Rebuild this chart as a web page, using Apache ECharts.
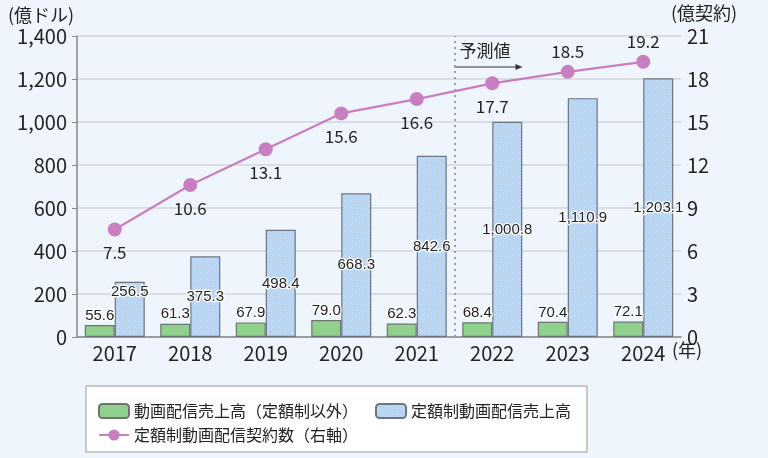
<!DOCTYPE html>
<html><head><meta charset="utf-8">
<script src="https://cdn.jsdelivr.net/npm/echarts@6/dist/echarts.min.js"></script>
<style>html,body{margin:0;padding:0;background:#eef5fc;}#c{width:768px;height:458px;}</style>
</head><body><div id="c"></div>
<script>
const years = ['2017','2018','2019','2020','2021','2022','2023','2024'];
const otherSales = [55.6, 61.3, 67.9, 79.0, 62.3, 68.4, 70.4, 72.1];
const subSales = [256.5, 375.3, 498.4, 668.3, 842.6, 1000.8, 1110.9, 1203.1];
const contracts = [7.5, 10.6, 13.1, 15.6, 16.6, 17.7, 18.5, 19.2];
const leftTicks = {min:0, max:1400, interval:200};
const rightTicks = {min:0, max:21, interval:3};
const forecastStartIndex = 5;
const names = ['動画配信売上高（定額制以外）','定額制動画配信売上高','定額制動画配信契約数（右軸）'];

const FONT = '"Noto Sans CJK JP","Noto Sans",sans-serif';
const NARROW = '"Liberation Sans",sans-serif';

function hatch(){
  const c = document.createElement('canvas');
  c.width = 6; c.height = 6;
  const g = c.getContext('2d');
  g.fillStyle = '#a4c8ef'; g.fillRect(0,0,6,6);
  g.strokeStyle = '#d0e3f8'; g.lineWidth = 1.2;
  for (let k=-6;k<=12;k+=3){ g.beginPath(); g.moveTo(k,6); g.lineTo(k+6,0); g.stroke(); }
  return c;
}
const pat = {image: hatch(), repeat:'repeat'};
const chart = echarts.init(document.getElementById('c'));
const fmt = v => v.toLocaleString('en-US',{minimumFractionDigits:1,maximumFractionDigits:1});
const barLabel = {show:true, fontFamily:NARROW, fontSize:15, color:'#222', textBorderColor:'#fff', textBorderWidth:2.5};

chart.setOption({
  backgroundColor:'#eef5fc',
  animation:false,
  grid:{left:77,right:87,top:36,bottom:121},
  legend:[{
    left:98, top:403, padding:0, itemGap:17, itemWidth:30, itemHeight:14,
    textStyle:{fontFamily:FONT, fontSize:16, color:'#222'},
    data:[names[0], names[1]]
  },{
    left:98, top:427, padding:0, itemWidth:30, itemHeight:14,
    textStyle:{fontFamily:FONT, fontSize:16, color:'#222'},
    data:[names[2]]
  }],
  xAxis:[{
    type:'category', data:years,
    axisLine:{lineStyle:{color:'#888',width:1.5}},
    axisTick:{inside:true,length:5,lineStyle:{color:'#999'}},
    axisLabel:{fontFamily:FONT, fontSize:20, color:'#222', margin:6}
  },{
    type:'value', min:0, max:years.length, show:false
  }],
  yAxis:[{
    type:'value', min:leftTicks.min, max:leftTicks.max, interval:leftTicks.interval,
    axisLine:{show:true,lineStyle:{color:'#888',width:1.5}},
    splitLine:{lineStyle:{color:'#d3d6da',width:1.5}},
    axisLabel:{fontFamily:FONT, fontSize:20, color:'#222', margin:10,
      formatter:v=>v.toLocaleString('en-US')}
  },{
    type:'value', min:rightTicks.min, max:rightTicks.max, interval:rightTicks.interval,
    axisLine:{show:false}, splitLine:{show:false}, axisTick:{show:false},
    axisLabel:{fontFamily:FONT, fontSize:20, color:'#222', margin:6}
  }],
  series:[{
    name:names[0], type:'bar', data:otherSales, barWidth:30, barGap:'0%',
    itemStyle:{color:'#8fd18c', borderColor:'#6d7570', borderWidth:1.2},
    label:Object.assign({position:'top', distance:2, formatter:p=>fmt(p.value)}, barLabel)
  },{
    name:names[1], type:'bar', data:subSales.map((v,i)=>i===0?{value:v,label:{position:'insideTop',distance:3}}:v), barWidth:30,
    itemStyle:{color:pat, borderColor:'#6d7580', borderWidth:1.2},
    label:Object.assign({position:'inside', formatter:p=>fmt(p.value)}, barLabel)
  },{
    name:names[2], type:'line', yAxisIndex:1,
    data:contracts.map((v,i)=>i>=6?{value:v,label:{position:'top',distance:5}}:v),
    symbol:'circle', symbolSize:14,
    lineStyle:{color:'#c87fc2',width:2.2}, itemStyle:{color:'#c87fc2'},
    label:{show:true, fontFamily:FONT, fontSize:17, color:'#222', distance:8,
      position:'bottom', formatter:p=>p.value.toFixed(1)},
    z:5
  },{
    type:'line', xAxisIndex:1, yAxisIndex:0, data:[], silent:true,
    markLine:{symbol:['none','none'], silent:true, label:{show:false},
      lineStyle:{color:'#9aa0a8', type:[2,4], width:2},
      data:[{xAxis:forecastStartIndex}]}
  }]
});

const x0 = chart.convertToPixel({xAxisIndex:1}, forecastStartIndex);
const yTop = chart.convertToPixel({yAxisIndex:0}, leftTicks.max);
const y0 = chart.convertToPixel({yAxisIndex:0}, 0);
const xEnd = chart.convertToPixel({xAxisIndex:1}, years.length);
chart.setOption({graphic:[
  {type:'rect', z:-1, shape:{x:86, y:386, width:501, height:66}, style:{fill:'#fff', stroke:'#999', lineWidth:1}},
  {type:'text', left:8, top:6, style:{text:'(億ドル)', fontFamily:FONT, fontSize:18, fill:'#222'}},
  {type:'text', left:671, top:4, style:{text:'(億契約)', fontFamily:FONT, fontSize:18, fill:'#222'}},
  {type:'text', x:xEnd-9, y:y0+4, style:{text:'(年)', fontFamily:FONT, fontSize:18, fill:'#222'}},
  {type:'text', x:x0+5, y:yTop+6, style:{text:'予測値', fontFamily:FONT, fontSize:17, fill:'#222'}},
  {type:'line', shape:{x1:x0, y1:yTop+31, x2:x0+62, y2:yTop+31}, style:{stroke:'#333', lineWidth:1.2}},
  {type:'polygon', shape:{points:[[x0+68,yTop+31],[x0+61,yTop+28],[x0+61,yTop+34]]}, style:{fill:'#333'}}
]});
</script></body></html>
